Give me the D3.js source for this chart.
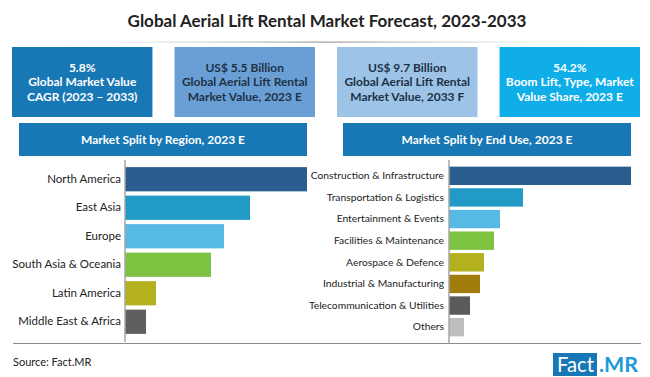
<!DOCTYPE html>
<html><head><meta charset="utf-8">
<script src="https://cdn.jsdelivr.net/npm/d3@7"></script>
<style>body{margin:0;background:#fff}svg{display:block}</style>
</head><body>
<svg id="c" width="650" height="377"></svg>
<script>
const title = "Global Aerial Lift Rental Market Forecast, 2023-2033";
const kpiLines = [
  ["5.8%", "Global Market Value", "CAGR (2023 \u2013 2033)"],
  ["US$ 5.5 Billion", "Global Aerial Lift Rental", "Market Value, 2023 E"],
  ["US$ 9.7 Billion", "Global Aerial Lift Rental", "Market Value, 2033 F"],
  ["54.2%", "Boom Lift, Type, Market", "Value Share, 2023 E"]
];
const kpiFill = ["#1878b5", "#6a9fd5", "#9dc3e6", "#10aee9"];
const kpiText = ["#ffffff", "#1e3246", "#1e3246", "#ffffff"];

const regionTitle = "Market Split by Region, 2023 E";
const regions = ["North America", "East Asia", "Europe", "South Asia & Oceania", "Latin America", "Middle East & Africa"];
const regionValues = [182, 125, 99, 86, 31, 21];
const regionColors = ["#2c5d8f", "#219ac5", "#56b9e6", "#7ec242", "#b3b21e", "#5f5f5f"];

const endUseTitle = "Market Split by End Use, 2023 E";
const endUses = ["Construction & Infrastructure", "Transportation & Logistics", "Entertainment & Events", "Facilities & Maintenance", "Aerospace & Defence", "Industrial & Manufacturing", "Telecommunication & Utilities", "Others"];
const endUseValues = [182, 74, 51, 45, 35, 31, 21, 15];
const endUseColors = ["#2c5d8f", "#219ac5", "#56b9e6", "#7ec242", "#b3b21e", "#a07c0c", "#5a5a5a", "#bdbdbd"];

const svg = d3.select("#c");
const FONT = "Lato, 'Open Sans', sans-serif";

// title
svg.append("text").attr("x", 327).attr("y", 27).attr("text-anchor", "middle")
  .attr("font-family", FONT).attr("font-weight", 700).attr("font-size", 17)
  .attr("fill", "#222").text(title);
const grad = svg.append("defs").append("linearGradient").attr("id", "tl");
grad.append("stop").attr("offset", "0%").attr("stop-color", "#ccc").attr("stop-opacity", 0);
grad.append("stop").attr("offset", "50%").attr("stop-color", "#999");
grad.append("stop").attr("offset", "100%").attr("stop-color", "#ccc").attr("stop-opacity", 0);
svg.append("rect").attr("x", 60).attr("y", 41.5).attr("width", 530).attr("height", 1.2).attr("fill", "url(#tl)");

// KPI boxes
const kx = d3.scaleBand().domain(d3.range(4)).range([12, 640]).paddingInner(0.136);
kpiLines.forEach((lines, i) => {
  svg.append("rect").attr("x", kx(i)).attr("y", 47).attr("width", kx.bandwidth()).attr("height", 70).attr("fill", kpiFill[i]);
  lines.forEach((t, j) => {
    svg.append("text").attr("x", kx(i) + kx.bandwidth() / 2).attr("y", 71.5 + j * 14.5)
      .attr("text-anchor", "middle").attr("font-family", FONT).attr("font-weight", 700)
      .attr("font-size", 12).attr("fill", kpiText[i]).text(t);
  });
});

function panel(opts) {
  const g = svg.append("g");
  g.append("rect").attr("x", opts.hx0).attr("y", 123).attr("width", opts.hx1 - opts.hx0).attr("height", 33).attr("fill", "#1878b5");
  g.append("text").attr("x", (opts.hx0 + opts.hx1) / 2).attr("y", 143.5).attr("text-anchor", "middle")
    .attr("font-family", FONT).attr("font-weight", 700).attr("font-size", 12).attr("fill", "#fff").text(opts.title);
  const y = d3.scaleBand().domain(opts.cats).range([opts.y0, opts.y1]).paddingInner(opts.pad).paddingOuter(opts.pad / 2);
  const x = d3.scaleLinear().domain([0, 182]).range([opts.ax, opts.ax + 182]);
  g.selectAll(".bar").data(opts.vals).join("rect")
    .attr("x", x(0)).attr("y", (d, i) => y(opts.cats[i]))
    .attr("width", d => x(d) - x(0)).attr("height", y.bandwidth())
    .attr("fill", (d, i) => opts.colors[i]);
  const axis = d3.axisLeft(y).tickSize(0).tickPadding(opts.tp);
  const ag = g.append("g").attr("transform", `translate(${opts.ax},0)`).call(axis);
  ag.select(".domain").attr("stroke", "#a6a6a6").attr("stroke-width", 1.5)
    .attr("d", `M0,${opts.y0 - 5}V${opts.y1 + 6}`);
  ag.selectAll("text").attr("font-family", FONT).attr("font-size", opts.fs).attr("fill", "#222");
}

panel({hx0: 19, hx1: 307, title: regionTitle, cats: regions, vals: regionValues, colors: regionColors,
  ax: 125, y0: 165, y1: 336, pad: 0.15, tp: 4, fs: 11.5});
panel({hx0: 343, hx1: 631, title: endUseTitle, cats: endUses, vals: endUseValues, colors: endUseColors,
  ax: 449, y0: 165, y1: 338, pad: 0.15, tp: 5, fs: 10.3});

// bottom rule
svg.append("line").attr("x1", 13).attr("x2", 641).attr("y1", 343.5).attr("y2", 343.5).attr("stroke", "#8a8a8a").attr("stroke-width", 1.2);
svg.append("text").attr("x", 13).attr("y", 366).attr("font-family", FONT).attr("font-size", 11).attr("fill", "#222").text("Source: Fact.MR");

// logo
svg.append("rect").attr("x", 553).attr("y", 353).attr("width", 44).attr("height", 23).attr("fill", "#1878b5");
svg.append("text").attr("x", 557).attr("y", 372).attr("font-family", FONT)
  .attr("font-size", 21).attr("textLength", 37).attr("lengthAdjust", "spacingAndGlyphs").attr("fill", "#fff").text("Fact");
svg.append("text").attr("x", 599).attr("y", 372).attr("font-family", FONT).attr("font-weight", 700)
  .attr("font-size", 21).attr("textLength", 39).attr("lengthAdjust", "spacingAndGlyphs").attr("fill", "#1d9ad7").text(".MR");
</script>
</body></html>
